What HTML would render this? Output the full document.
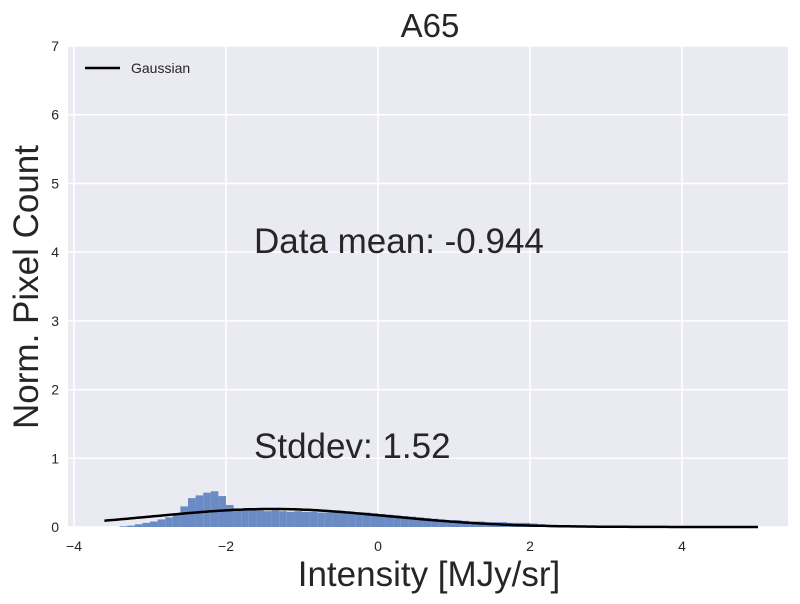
<!DOCTYPE html>
<html><head><meta charset="utf-8"><style>
body{margin:0;background:#fff;}
svg{display:block;font-family:"Liberation Sans",sans-serif;}
</style></head><body>
<svg id="chart" width="800" height="604" viewBox="0 0 800 604">
<rect x="68" y="46" width="720" height="481" fill="#EAEAF2"/>
<g id="grid"></g>
<g id="bars"></g>
<path id="gauss" fill="none" stroke="#000" stroke-width="2.5"/>
<g id="ticks" font-size="14" fill="#262626"></g>
<text x="430" y="37" font-size="33" text-anchor="middle" fill="#262626">A65</text>
<text x="429" y="586" font-size="35" text-anchor="middle" fill="#262626">Intensity [MJy/sr]</text>
<text transform="translate(38,287) rotate(-90)" font-size="35" text-anchor="middle" fill="#262626">Norm. Pixel Count</text>
<text x="254" y="253" font-size="35" fill="#262626">Data mean: -0.944</text>
<text x="254" y="458" font-size="35" fill="#262626">Stddev: 1.52</text>
<g>
<line x1="85" y1="68" x2="120" y2="68" stroke="#000" stroke-width="2.5"/>
<text x="131" y="73" font-size="14" fill="#262626">Gaussian</text>
</g>
</svg>
<script>
const binStart = -3.4, binWidth = 0.1;
const binHeights = [0.01,0.02,0.04,0.06,0.08,0.11,0.14,0.18,0.3,0.42,0.46,0.5,0.52,0.45,0.32,0.27,0.25,0.24,0.24,0.23,0.24,0.23,0.22,0.23,0.22,0.22,0.21,0.21,0.22,0.21,0.2,0.2,0.21,0.2,0.19,0.18,0.17,0.16,0.15,0.14,0.13,0.12,0.11,0.1,0.1,0.09,0.08,0.08,0.07,0.07,0.07,0.06,0.06,0.06,0.05,0.04,0.03,0.03,0.02,0.02,0.01,0.005];
const gaussMean = -1.4, gaussSigma = 1.52, gaussRange = [-3.6, 5.0];
const xTicks = [-4,-2,0,2,4];
const yTicks = [0,1,2,3,4,5,6,7];
const xTickLabels = ["\u22124","\u22122","0","2","4"];

const X = v => 378 + v*76;
const Y = v => 527 - v*68.71;
const NS = "http://www.w3.org/2000/svg";
const grid = document.getElementById('grid'), ticks = document.getElementById('ticks'), bars = document.getElementById('bars');
xTicks.forEach((t,i)=>{
  const l = document.createElementNS(NS,'line');
  l.setAttribute('x1',X(t)); l.setAttribute('x2',X(t)); l.setAttribute('y1',46); l.setAttribute('y2',527);
  l.setAttribute('stroke','#fff'); l.setAttribute('stroke-width','1.5');
  
  
  grid.appendChild(l);
  const tx = document.createElementNS(NS,'text');
  tx.setAttribute('x',X(t)); tx.setAttribute('y',551); tx.setAttribute('text-anchor','middle');
  tx.textContent = xTickLabels[i];
  
  
  ticks.appendChild(tx);
});
yTicks.forEach(t=>{
  const l = document.createElementNS(NS,'line');
  l.setAttribute('x1',68); l.setAttribute('x2',788); l.setAttribute('y1',Y(t)); l.setAttribute('y2',Y(t));
  l.setAttribute('stroke','#fff'); l.setAttribute('stroke-width','1.5');
  
  
  grid.appendChild(l);
  const tx = document.createElementNS(NS,'text');
  tx.setAttribute('x',59); tx.setAttribute('y',Y(t)+5); tx.setAttribute('text-anchor','end');
  tx.textContent = t;
  
  
  ticks.appendChild(tx);
});
binHeights.forEach((h,i)=>{
  const x0 = binStart + i*binWidth;
  const r = document.createElementNS(NS,'rect');
  r.setAttribute('x',X(x0)); r.setAttribute('width',X(x0+binWidth)-X(x0));
  r.setAttribute('y',Y(h)); r.setAttribute('height',Y(0)-Y(h));
  r.setAttribute('fill','#6a8bc3');
  
  
  bars.appendChild(r);
});
let d = '';
for (let k=0;k<=200;k++){
  const v = gaussRange[0] + (gaussRange[1]-gaussRange[0])*k/200;
  const g = Math.exp(-0.5*((v-gaussMean)/gaussSigma)**2)/(gaussSigma*Math.sqrt(2*Math.PI));
  d += (k?'L':'M') + X(v).toFixed(1) + ',' + Y(g).toFixed(1);
}
document.getElementById('gauss').setAttribute('d', d);
</script>
</body></html>
